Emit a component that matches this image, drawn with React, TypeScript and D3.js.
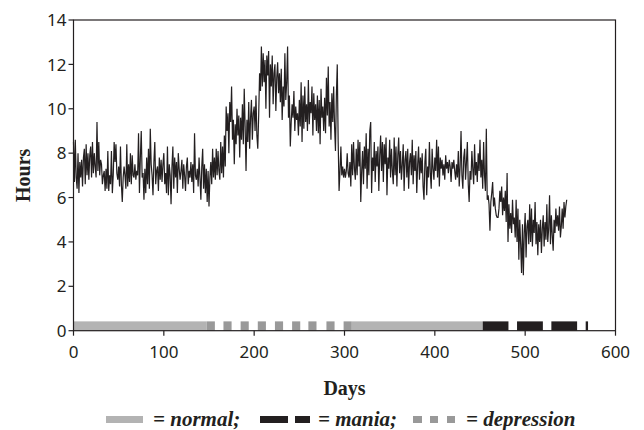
import React from "react";
import * as d3 from "d3";

// Daily sleep hours, day 0..546
const hours: number[] = [
  8.5, 6.7, 8.6, 6.9, 6.4, 8.0, 6.2, 7.6, 6.9, 7.7,
  6.5, 7.8, 8.2, 6.6, 8.4, 7.0, 8.0, 6.8, 7.9, 8.3,
  6.9, 8.5, 7.1, 8.0, 7.4, 6.9, 9.4, 7.2, 8.5, 7.0,
  7.7, 7.5, 6.6, 7.0, 7.2, 6.3, 7.3, 6.4, 8.1, 6.3,
  7.0, 6.6, 8.1, 6.2, 7.0, 8.5, 7.6, 8.4, 7.1, 6.8,
  7.4, 6.5, 8.3, 6.6, 5.8, 6.9, 7.4, 7.0, 6.4, 8.4,
  6.5, 7.5, 6.7, 8.0, 6.6, 7.9, 7.0, 6.9, 7.5, 6.8,
  7.2, 7.0, 8.9, 6.2, 7.8, 9.0, 6.9, 7.1, 5.9, 7.3,
  6.2, 7.8, 6.6, 8.2, 6.4, 9.1, 7.5, 7.0, 6.1, 7.6,
  8.5, 6.6, 7.2, 7.4, 6.3, 7.8, 6.8, 7.7, 6.7, 7.5,
  8.0, 6.6, 7.1, 6.2, 8.3, 6.1, 7.5, 7.0, 5.7, 7.4,
  8.3, 6.4, 7.8, 6.9, 7.6, 6.2, 8.0, 7.3, 6.8, 7.2,
  7.7, 6.4, 7.5, 7.0, 6.3, 7.4, 7.8, 6.6, 7.2, 6.9,
  7.6, 6.7, 7.5, 6.2, 8.9, 7.0, 6.8, 7.3, 6.5, 7.8,
  6.9, 5.9, 7.4, 8.2, 6.4, 7.5, 6.2, 7.3, 5.8, 7.2,
  5.6, 6.9, 7.6, 6.6, 8.2, 6.9, 7.8, 6.8, 8.2, 7.0,
  8.1, 7.2, 6.8, 8.5, 7.1, 8.3, 6.9, 8.8, 7.4, 10.1,
  9.0, 9.8, 8.0, 10.3, 9.4, 11.0, 8.6, 9.5, 7.5, 9.3,
  8.4, 10.0, 8.8, 9.7, 7.8, 9.6, 8.6, 10.2, 8.4, 10.9,
  9.2, 7.2, 9.5, 8.5, 10.3, 8.2, 9.6, 10.4, 8.6, 9.8,
  10.1, 9.0, 10.6, 8.8, 8.2, 9.7, 11.6, 10.8, 12.8, 11.0,
  12.5, 11.2, 12.2, 10.0, 12.4, 11.5, 12.6, 9.6, 12.0, 11.0,
  12.4, 10.2, 11.6, 12.0, 9.9, 11.4, 12.1, 10.7, 11.6, 10.3,
  11.8, 9.5, 11.0, 10.1, 12.5, 10.4, 11.2, 12.8, 9.6, 10.6,
  8.3, 9.4, 10.2, 9.6, 10.8, 9.0, 10.1, 9.5, 9.8, 8.8,
  10.4, 9.2, 11.2, 8.5, 10.6, 9.1, 11.0, 9.4, 10.2, 9.0,
  11.3, 9.3, 10.3, 9.8, 11.0, 8.8, 10.7, 9.5, 10.2, 9.0,
  10.6, 8.9, 10.4, 8.4, 10.9, 9.6, 10.1, 9.0, 10.5, 8.9,
  11.4, 9.7, 11.9, 9.2, 10.3, 8.6, 10.7, 9.4, 11.0, 9.2,
  8.1, 10.6, 12.0, 8.5, 6.3, 7.2, 8.3, 7.0, 7.4, 6.9,
  7.3, 6.9, 7.2, 8.0, 7.1, 6.9, 7.6, 6.5, 8.4, 7.0,
  8.5, 7.3, 6.8, 8.2, 7.0, 8.6, 7.4, 8.5, 5.8, 7.2,
  8.1, 6.6, 8.3, 7.3, 8.9, 6.4, 8.2, 7.0, 9.0, 9.4,
  6.2, 7.8, 7.2, 8.5, 6.7, 8.1, 7.4, 8.3, 6.3, 7.9,
  8.8, 7.2, 8.5, 6.7, 8.4, 7.5, 8.7, 6.1, 7.8, 7.3,
  8.6, 6.9, 8.2, 7.2, 6.6, 8.7, 7.0, 8.3, 6.5, 7.9,
  8.7, 7.1, 8.1, 6.8, 7.5, 8.4, 6.3, 7.7, 8.1, 6.9,
  8.2, 6.4, 7.6, 8.0, 7.0, 8.6, 6.6, 7.9, 7.2, 8.1,
  6.2, 7.5, 8.3, 6.8, 7.8, 7.1, 8.0, 6.5, 5.9, 7.6,
  8.2, 6.1, 7.4, 6.9, 8.5, 7.1, 6.4, 8.2, 7.3, 6.8,
  7.8, 7.2, 8.6, 6.9, 8.3, 6.5, 7.8, 7.3, 7.7, 7.0,
  7.5, 6.8, 7.9, 7.3, 7.6, 7.1, 7.7, 7.4, 6.7, 7.6,
  7.3, 7.7, 7.2, 6.8, 7.5, 6.9, 8.1, 6.5, 7.4, 9.0,
  7.0, 6.4, 7.8, 8.2, 6.8, 7.6, 8.5, 6.6, 5.8, 7.2,
  6.8, 8.1, 7.3, 6.6, 8.4, 7.0, 7.6, 6.7, 8.0, 7.2,
  8.6, 6.9, 7.7, 6.4, 8.5, 7.0, 6.3, 9.1, 5.9, 6.1,
  5.7, 4.5, 5.8, 6.2, 6.7, 5.6, 6.0, 5.5, 5.2, 5.1,
  5.1, 5.5, 6.3, 5.8, 6.5, 5.2, 6.0, 5.4, 6.3, 4.9,
  7.1, 4.0, 5.7, 4.6, 5.3, 4.4, 5.9, 4.8, 5.1, 4.2,
  5.9, 4.0, 5.5, 3.2, 5.0, 3.9, 2.6, 4.8, 2.5, 4.4,
  5.3, 3.3, 4.7, 5.0, 3.9, 5.7, 4.0, 5.5, 3.8, 5.0,
  4.4, 5.8, 3.9, 4.9, 3.4, 4.8, 4.0, 5.0, 3.5, 4.6,
  5.2, 3.8, 4.9, 4.1, 5.7, 4.0, 4.6, 6.1, 3.9, 5.2,
  4.3, 3.6, 5.0, 4.4, 5.5, 4.7, 5.2, 4.5, 5.6, 4.2,
  4.7, 5.5, 4.6, 5.8, 5.1, 5.6, 5.9,
];

// State periods [startDay, endDay]
const normalPeriods: [number, number][] = [[0, 147.5], [308, 453]];
const depressionPeriods: [number, number][] = [
  [147.5, 156.5], [166, 175], [185, 194], [204, 213], [223, 232],
  [242, 251], [260, 269], [280, 289], [299, 308],
];
const maniaPeriods: [number, number][] = [[453, 481.5], [491, 519.6], [529, 557.5], [567, 569.6]];

const xTicks = [0, 100, 200, 300, 400, 500, 600];
const yTicks = [0, 2, 4, 6, 8, 10, 12, 14];
const barHeightValue = 0.42;

const COL_NORMAL = "#b3b3b3";
const COL_DEP = "#999999";
const COL_MANIA = "#231f20";
const INK = "#231f20";

export default function App() {
  const W = 644, H = 430;
  const x = d3.scaleLinear().domain([0, 600]).range([73.5, 615.5]);
  const y = d3.scaleLinear().domain([0, 14]).range([330.7, 20]);
  const line = d3.line<number>().x((_, i) => x(i)).y((d) => y(d));
  const tickFont = "'Noto Sans', 'Open Sans', sans-serif";
  const serif = "'Liberation Serif', 'DejaVu Serif', serif";

  const bars = (periods: [number, number][], color: string, key: string) =>
    periods.map(([a, b], i) => (
      <rect key={key + i} x={x(a)} y={y(barHeightValue)} width={x(b) - x(a)}
        height={y(0) - y(barHeightValue)} fill={color} />
    ));

  return (
    <svg width={W} height={H} style={{ position: "absolute", left: 0, top: 0, background: "#fff" }}>
      {bars(normalPeriods, COL_NORMAL, "n")}
      {bars(depressionPeriods, COL_DEP, "d")}
      {bars(maniaPeriods, COL_MANIA, "m")}
      <path d={line(hours) || ""} fill="none" stroke={INK} strokeWidth={1.2} strokeLinejoin="miter" />
      {/* frame */}
      <rect x={x(0)} y={y(14)} width={x(600) - x(0)} height={y(0) - y(14)} fill="none" stroke={INK} strokeWidth={1.2} />
      {yTicks.map((t) => (
        <g key={"y" + t}>
          <line x1={x(0) - 5} x2={x(0)} y1={y(t)} y2={y(t)} stroke={INK} strokeWidth={1.2} />
          <text x={x(0) - 7} y={y(t)} dy="0.36em" textAnchor="end" fontFamily={tickFont} fontSize={17} fill={INK}>{t}</text>
        </g>
      ))}
      {xTicks.map((t) => (
        <g key={"x" + t}>
          <line x1={x(t)} x2={x(t)} y1={y(0)} y2={y(0) + 5} stroke={INK} strokeWidth={1.2} />
          <text x={x(t)} y={358} textAnchor="middle" fontFamily={tickFont} fontSize={17} fill={INK}>{t}</text>
        </g>
      ))}
      <text x={x(300)} y={395} textAnchor="middle" fontFamily={serif} fontWeight="bold" fontSize={20} fill={INK}>Days</text>
      <text transform={`translate(30,${y(7)}) rotate(-90)`} textAnchor="middle" fontFamily={serif} fontWeight="bold" fontSize={20} fill={INK}>Hours</text>
      {/* legend */}
      <rect x={106} y={416} width={37} height={7} fill={COL_NORMAL} />
      <text x={153} y={426} fontFamily={serif} fontWeight="bold" fontStyle="italic" fontSize={21} fill={INK}>= normal;</text>
      <rect x={260} y={416} width={28} height={7} fill={COL_MANIA} />
      <rect x={295} y={416} width={15} height={7} fill={COL_MANIA} />
      <text x={318} y={426} fontFamily={serif} fontWeight="bold" fontStyle="italic" fontSize={21} fill={INK}>= mania;</text>
      <rect x={413} y={416} width={9} height={7} fill={COL_DEP} />
      <rect x={430} y={416} width={8} height={7} fill={COL_DEP} />
      <rect x={447} y={416} width={8} height={7} fill={COL_DEP} />
      <text x={466} y={426} fontFamily={serif} fontWeight="bold" fontStyle="italic" fontSize={21} fill={INK}>= depression</text>
    </svg>
  );
}
